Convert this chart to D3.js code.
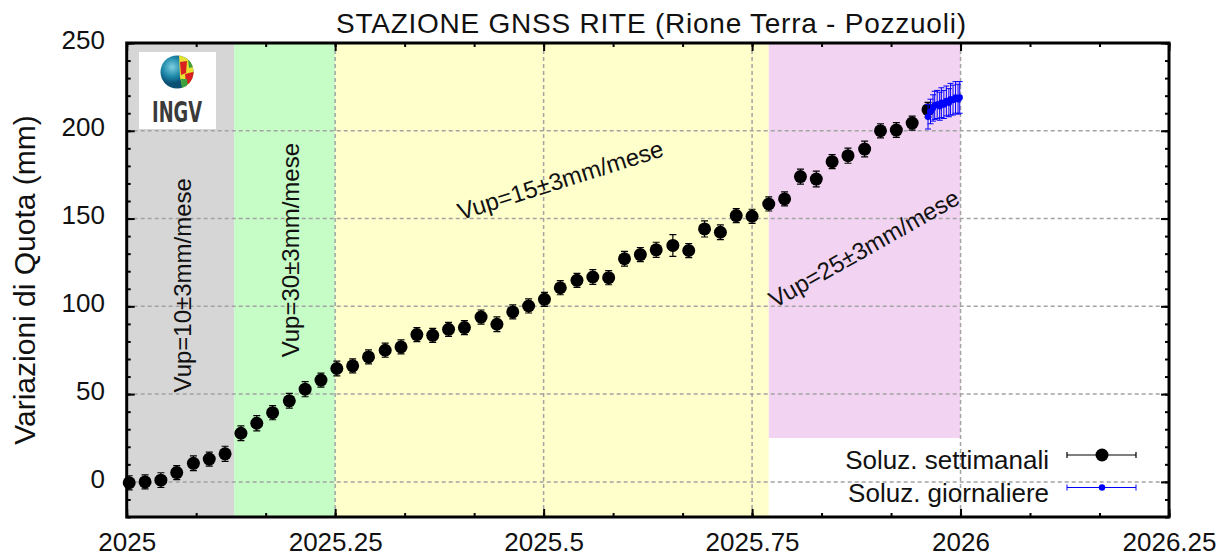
<!DOCTYPE html>
<html>
<head>
<meta charset="utf-8">
<script src="https://d3js.org/d3.v7.min.js"></script>
<style>
  body { margin: 0; background: #fff; }
  text { font-family: "Liberation Sans", Arial, sans-serif; fill: #111; }
</style>
</head>
<body>
<div id="chart"></div>
<script>
// Weekly solutions: decimal year, height variation (mm), error (mm)
var weekTime = [2025.003, 2025.022, 2025.041, 2025.060, 2025.080, 2025.099, 2025.118, 2025.137,
  2025.156, 2025.175, 2025.195, 2025.214, 2025.233, 2025.252, 2025.271, 2025.290, 2025.310,
  2025.329, 2025.348, 2025.367, 2025.386, 2025.405, 2025.425, 2025.444, 2025.463, 2025.482,
  2025.501, 2025.520, 2025.540, 2025.559, 2025.578, 2025.597, 2025.616, 2025.635, 2025.655,
  2025.674, 2025.693, 2025.712, 2025.731, 2025.750, 2025.770, 2025.789, 2025.808, 2025.827,
  2025.846, 2025.865, 2025.885, 2025.904, 2025.923, 2025.942, 2025.961];
var weekQuota = [-0.5, 0, 1, 5.3, 10.6, 13, 16, 27.7, 33.4, 39.4, 46.2, 52.8, 58, 64.6, 66.1,
  71.2, 75, 76.9, 83.9, 83.5, 86.9, 87.9, 93.9, 89.8, 96.8, 100.2, 104, 110.6, 114.8, 116.7,
  116.3, 127.1, 129.5, 132.2, 134.7, 131.8, 144.1, 142.2, 151.7, 151.3, 158.3, 161.2, 173.9,
  172.5, 182.4, 185.8, 189.6, 200, 200.4, 204.4, 212];
var weekErr = [4, 4, 4.2, 4, 4.2, 4, 4.3, 4.2, 4.3, 4, 4.2, 4.3, 4, 4.2, 4, 4, 4, 4, 4, 4, 4,
  4, 4, 4.2, 4, 4, 4, 4, 4, 4.2, 4, 4.2, 4, 4.3, 6.2, 4, 4.6, 4.2, 4, 4, 4, 4, 4.3, 4.5, 4,
  4.3, 4.5, 4, 4.2, 4, 4.2];

// Daily solutions
var dayTime = [2025.961, 2025.964, 2025.967, 2025.969, 2025.972, 2025.975, 2025.977, 2025.980,
  2025.983, 2025.986, 2025.988, 2025.991, 2025.994, 2025.997, 2025.999];
var dayQuota = [208, 211, 213, 214.5, 215, 214, 216, 215, 217, 216, 218, 217.5, 219, 218, 219];
var dayErr = [7, 7, 7.5, 8, 8, 8, 8.5, 8, 8.5, 8, 9, 8.5, 9, 8.5, 9];

// Axis ticks
var xTicks = [2025, 2025.25, 2025.5, 2025.75, 2026, 2026.25];
var xTickLabels = ["2025", "2025.25", "2025.5", "2025.75", "2026", "2026.25"];
var yTicks = [0, 50, 100, 150, 200, 250];

// Velocity periods (start, end, lower limit in mm) and their labels
var bandStart = [2025, 2025.129, 2025.25, 2025.77];
var bandEnd = [2025.129, 2025.25, 2025.77, 2026];
var bandBottom = [-20, -20, -20, 25];
var bandLabels = ["Vup=10±3mm/mese", "Vup=30±3mm/mese", "Vup=15±3mm/mese", "Vup=25±3mm/mese"];

// SVG area
var svgWidth = 1230;
var svgHeight = 560;
var margin = { top: 43, right: 61, bottom: 43, left: 126.7 };
var chartWidth = svgWidth - margin.left - margin.right;
var chartHeight = svgHeight - margin.top - margin.bottom;

var bandColors = ["#d6d6d6", "#c6fcc6", "#ffffcc", "#f2d4f2"];
// label anchor (data coords) and rotation for each period text
var labelPos = [[2025.0675, 112, -90], [2025.196, 132, -90], [2025.52, 172, -17.5], [2025.884, 133, -29.5]];

var svg = d3.select("#chart")
  .append("svg")
  .attr("width", svgWidth)
  .attr("height", svgHeight);

var chartGroup = svg.append("g")
  .attr("transform", `translate(${margin.left}, ${margin.top})`);

var x = d3.scaleLinear().domain([2025, 2026.25]).range([0, chartWidth]);
var y = d3.scaleLinear().domain([-20, 250]).range([chartHeight, 0]);

// coloured periods
chartGroup.selectAll("rect.band")
  .data(bandStart)
  .enter()
  .append("rect")
  .attr("class", "band")
  .attr("x", (d, i) => x(d))
  .attr("width", (d, i) => x(bandEnd[i]) - x(d))
  .attr("y", y(250))
  .attr("height", (d, i) => y(bandBottom[i]) - y(250))
  .attr("fill", (d, i) => bandColors[i]);

// dashed grid
var grid = chartGroup.append("g")
  .attr("stroke", "#a3a3a3")
  .attr("stroke-width", 1.5)
  .attr("stroke-dasharray", "4,3");
grid.selectAll("line.gx")
  .data(xTicks.slice(1, -1))
  .enter()
  .append("line")
  .attr("x1", d => x(d)).attr("x2", d => x(d))
  .attr("y1", 0).attr("y2", chartHeight);
grid.selectAll("line.gy")
  .data(yTicks.slice(0, -1))
  .enter()
  .append("line")
  .attr("x1", 0).attr("x2", chartWidth)
  .attr("y1", d => y(d)).attr("y2", d => y(d));

// INGV logo
var logo = chartGroup.append("g").attr("transform", "translate(12.3, 9)");
logo.append("rect").attr("width", 77).attr("height", 77).attr("fill", "#fff");
var defs = svg.append("defs");
var grad = defs.append("radialGradient").attr("id", "globe").attr("cx", "35%").attr("cy", "35%");
grad.append("stop").attr("offset", "0%").attr("stop-color", "#7fd0e0");
grad.append("stop").attr("offset", "60%").attr("stop-color", "#1c87a8");
grad.append("stop").attr("offset", "100%").attr("stop-color", "#0b4f72");
defs.append("clipPath").attr("id", "globeClip")
  .append("circle").attr("cx", 38).attr("cy", 20).attr("r", 16.5);
logo.append("circle").attr("cx", 38).attr("cy", 20).attr("r", 16.5).attr("fill", "url(#globe)");
var patches = logo.append("g").attr("clip-path", "url(#globeClip)");
patches.append("path").attr("d", "M40,2 L58,4 L58,38 L44,38 L41,25 Z").attr("fill", "#e8e030");
patches.append("path").attr("d", "M41,10 L48,9 L47,21 L42,23 Z").attr("fill", "#d82020");
patches.append("path").attr("d", "M46,22 L58,19 L58,31 L47,32 Z").attr("fill", "#d82020");
patches.append("path").attr("d", "M42,27 L48,27 L49,38 L43,38 Z").attr("fill", "#3aa040");
patches.append("path").attr("d", "M49,8 L58,6 L58,14 L50,16 Z").attr("fill", "#3aa040");
logo.append("text")
  .attr("x", 13).attr("y", 70)
  .attr("textLength", 50)
  .attr("lengthAdjust", "spacingAndGlyphs")
  .style("font-family", "'Liberation Sans Narrow', 'DejaVu Sans Condensed', sans-serif")
  .style("font-weight", "bold")
  .style("font-size", "28px")
  .style("fill", "#3a3a3a")
  .text("INGV");

// period labels
chartGroup.selectAll("text.vup")
  .data(bandLabels)
  .enter()
  .append("text")
  .attr("class", "vup")
  .attr("transform", (d, i) => `translate(${x(labelPos[i][0])}, ${y(labelPos[i][1])}) rotate(${labelPos[i][2]})`)
  .attr("text-anchor", "middle")
  .attr("dominant-baseline", "central")
  .style("font-size", "24px")
  .text(d => d);

// weekly error bars + points
var week = chartGroup.append("g");
week.selectAll("path.err")
  .data(weekTime)
  .enter()
  .append("path")
  .attr("d", (d, i) => {
    var cx = x(d), y0 = y(weekQuota[i] - weekErr[i]), y1 = y(weekQuota[i] + weekErr[i]);
    return `M${cx},${y0}V${y1}M${cx - 3.5},${y0}H${cx + 3.5}M${cx - 3.5},${y1}H${cx + 3.5}`;
  })
  .attr("stroke", "#000")
  .attr("stroke-width", 1.2)
  .attr("fill", "none");
week.selectAll("circle")
  .data(weekTime)
  .enter()
  .append("circle")
  .attr("cx", d => x(d))
  .attr("cy", (d, i) => y(weekQuota[i]))
  .attr("r", 6.5)
  .attr("fill", "#000");

// daily error bars + points
var day = chartGroup.append("g");
day.selectAll("path.err")
  .data(dayTime)
  .enter()
  .append("path")
  .attr("d", (d, i) => {
    var cx = x(d), y0 = y(dayQuota[i] - dayErr[i]), y1 = y(dayQuota[i] + dayErr[i]);
    return `M${cx},${y0}V${y1}M${cx - 3},${y0}H${cx + 3}M${cx - 3},${y1}H${cx + 3}`;
  })
  .attr("stroke", "#0000ff")
  .attr("stroke-width", 1)
  .attr("fill", "none");
day.selectAll("circle")
  .data(dayTime)
  .enter()
  .append("circle")
  .attr("cx", d => x(d))
  .attr("cy", (d, i) => y(dayQuota[i]))
  .attr("r", 3.2)
  .attr("fill", "#0000ff");

// axes: major + minor ticks pointing inwards on all four sides
var xMinor = d3.range(0, 16).map(k => 2025 + k / 12);
var yMinor = d3.range(-20, 251, 10);

function styleAxis(g) {
  g.select(".domain").remove();
  g.selectAll("line").attr("stroke", "#000").attr("stroke-width", 2);
  g.selectAll("text").style("font-size", "26px").style("font-family", "'Liberation Sans', Arial, sans-serif").attr("fill", "#111");
}

chartGroup.append("g")
  .attr("transform", `translate(0, ${chartHeight})`)
  .call(d3.axisBottom(x).tickValues(xMinor).tickSize(-4).tickFormat(""))
  .call(styleAxis);
chartGroup.append("g")
  .attr("transform", `translate(0, ${chartHeight})`)
  .call(d3.axisBottom(x).tickValues(xTicks).tickSize(-8).tickPadding(16).tickFormat((d, i) => xTickLabels[i]))
  .call(styleAxis);
chartGroup.append("g")
  .call(d3.axisTop(x).tickValues(xMinor).tickSize(-4).tickFormat(""))
  .call(styleAxis);
chartGroup.append("g")
  .call(d3.axisTop(x).tickValues(xTicks).tickSize(-8).tickFormat(""))
  .call(styleAxis);

chartGroup.append("g")
  .call(d3.axisLeft(y).tickValues(yMinor).tickSize(-4).tickFormat(""))
  .call(styleAxis);
var leftAxis = chartGroup.append("g")
  .call(d3.axisLeft(y).tickValues(yTicks).tickSize(-8).tickPadding(21.7))
  .call(styleAxis);
leftAxis.selectAll("text").attr("dy", "0.2em");
chartGroup.append("g")
  .attr("transform", `translate(${chartWidth}, 0)`)
  .call(d3.axisRight(y).tickValues(yMinor).tickSize(-4).tickFormat(""))
  .call(styleAxis);
chartGroup.append("g")
  .attr("transform", `translate(${chartWidth}, 0)`)
  .call(d3.axisRight(y).tickValues(yTicks).tickSize(-8).tickFormat(""))
  .call(styleAxis);

// frame
chartGroup.append("rect")
  .attr("width", chartWidth)
  .attr("height", chartHeight)
  .attr("fill", "none")
  .attr("stroke", "#000")
  .attr("stroke-width", 3);

// legend
var legend = chartGroup.append("g");
var legendNames = ["Soluz. settimanali", "Soluz. giornaliere"];
var legendColors = ["#000", "#0000ff"];
legendNames.forEach((name, i) => {
  var ly = 422 + i * 32.5;
  legend.append("text")
    .attr("x", 922.3)
    .attr("y", ly + 4)
    .attr("text-anchor", "end")
    .style("font-size", "26px")
    .text(name);
  legend.append("path")
    .attr("d", `M940.3,${ly - 10}H1009.3M940.3,${ly - 13}V${ly - 7}M1009.3,${ly - 13}V${ly - 7}`)
    .attr("stroke", legendColors[i])
    .attr("stroke-width", i === 0 ? 1.2 : 1)
    .attr("fill", "none");
  legend.append("circle")
    .attr("cx", 975.3)
    .attr("cy", ly - 10)
    .attr("r", i === 0 ? 6.5 : 3.2)
    .attr("fill", legendColors[i]);
});

// title
svg.append("text")
  .attr("x", 651)
  .attr("y", 33)
  .attr("text-anchor", "middle")
  .attr("textLength", 630)
  .style("font-size", "28px")
  .text("STAZIONE GNSS RITE (Rione Terra - Pozzuoli)");

// y axis title
svg.append("text")
  .attr("transform", "translate(35, 280) rotate(-90)")
  .attr("text-anchor", "middle")
  .style("font-size", "30px")
  .text("Variazioni di Quota (mm)");
</script>
</body>
</html>
